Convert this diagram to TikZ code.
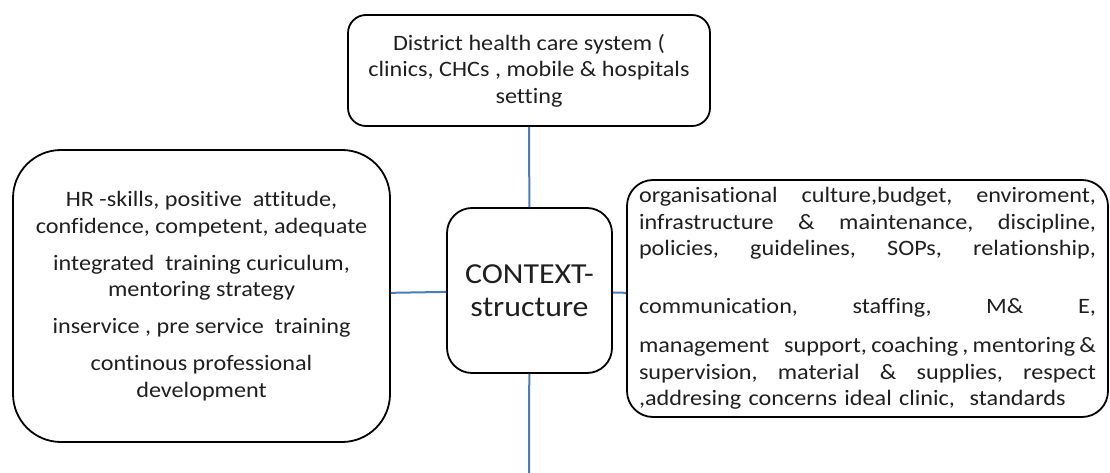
\documentclass[tikz,border=0pt]{standalone}
\usepackage{fontspec}
\setmainfont{Carlito}[FakeStretch=1.1,Ligatures=NoCommon]
\definecolor{linkblue}{HTML}{4A7EBB}
\definecolor{ink}{HTML}{1F1F1F}

\begin{document}
\begin{tikzpicture}[x=1pt,y=-1pt,
    box/.style={draw,line width=1.8pt,text=ink,inner sep=0pt},
    link/.style={linkblue,line width=2pt}]
  \useasboundingbox (0,0) rectangle (1110,473);
  \node[box,rounded corners=18pt,minimum width=362pt,minimum height=111pt,align=center,font=\fontsize{22}{26.5}\selectfont] (top) at (529,70.5) {District health care system (\\clinics, CHCs , mobile \& hospitals\\setting};
  \node[box,rounded corners=25pt,minimum width=165pt,minimum height=165pt,align=center,font=\fontsize{29}{33}\selectfont] (ctx) at (529.5,290.5) {CONTEXT-\\structure};
  \node[box,rounded corners=48pt,minimum width=377pt,minimum height=292pt,align=center,font=\fontsize{22}{26.5}\selectfont] (hr) at (201.5,296) {HR -skills, positive\ \ attitude,\\confidence, competent, adequate\\[10.5pt]integrated\ \ training curiculum,\\mentoring strategy\\[10.5pt]inservice , pre service\ \ training\\[10.5pt]continous professional\\development};
  \node[box,rounded corners=26pt,minimum width=481pt,minimum height=237pt,text width=457pt,align=left,font=\fontsize{22}{26.5}\selectfont] (org) at (867.5,298.5) {organisational\hfill culture,budget,\hfill enviroment,\\infrastructure\hfill \&\hfill maintenance,\hfill discipline,\\policies,\hfill guidelines,\hfill SOPs,\hfill relationship,\\[31.5pt]communication,\hfill staffing,\hfill M\&\hfill E,\\[12.5pt]management\ \ support,\hfill coaching\hfill ,\hfill mentoring\hfill \&\\supervision,\hfill material\hfill \&\hfill supplies,\hfill respect\\,addresing concerns ideal clinic,\ \ standards};
  \coordinate (foot) at (529,473);
  \draw[link] (top) -- (ctx);
  \draw[link] (ctx) -- (foot);
  \draw[link] (hr) -- (ctx);
  \draw[link] (ctx) -- (org);
\end{tikzpicture}
\end{document}
